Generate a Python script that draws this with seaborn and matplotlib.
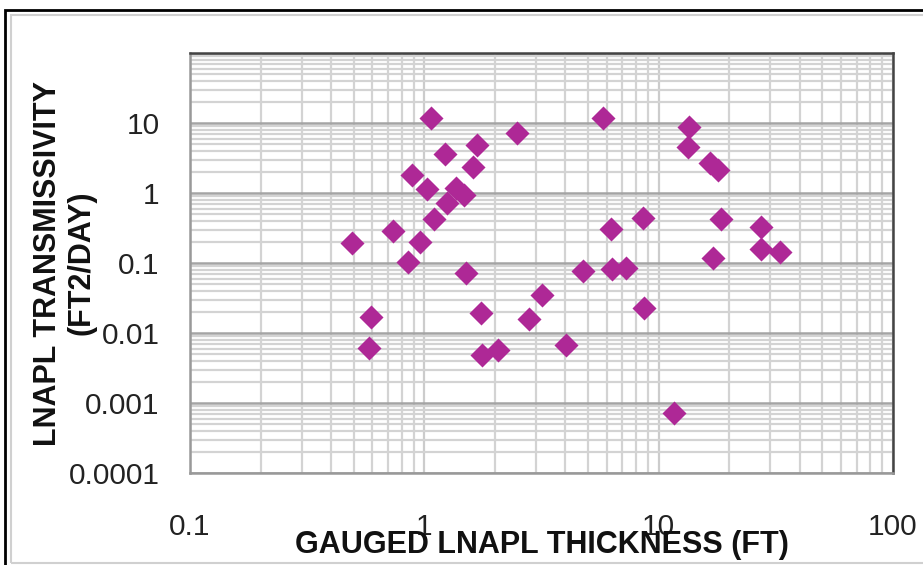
import numpy as np
import pandas as pd
import matplotlib
matplotlib.use("Agg")
import matplotlib.pyplot as plt
import seaborn as sns
from matplotlib.ticker import LogLocator, NullFormatter
from matplotlib.patches import Rectangle

# ---- data ----
thickness = [0.49, 0.594, 0.58, 0.737, 0.855, 0.89, 1.03, 0.96, 1.07, 1.10,
             1.23, 1.68, 1.62, 1.36, 1.47, 1.25, 1.51, 1.75, 1.77, 2.07,
             2.49, 2.81, 3.19, 4.04, 4.77, 5.81, 6.28, 6.34, 7.28, 8.6,
             8.69, 11.6, 13.5, 13.4, 16.6, 18.0, 18.5, 17.1, 27.2, 27.4, 33.1]
transmissivity = [0.19, 0.0168, 0.0061, 0.29, 0.105, 1.8, 1.15, 0.2, 11.8, 0.42,
                  3.6, 4.85, 2.35, 1.18, 0.94, 0.72, 0.072, 0.0193, 0.0048, 0.0057,
                  7.2, 0.0158, 0.035, 0.0067, 0.077, 11.8, 0.306, 0.082, 0.085, 0.44,
                  0.0227, 0.00072, 8.8, 4.5, 2.68, 2.13, 0.42, 0.118, 0.327, 0.158, 0.143]
xtick_vals = [0.1, 1, 10, 100]
xtick_labels = ["0.1", "1", "10", "100"]
ytick_vals = [0.0001, 0.001, 0.01, 0.1, 1, 10]
ytick_labels = ["0.0001", "0.001", "0.01", "0.1", "1", "10"]
x_label = "GAUGED LNAPL THICKNESS (FT)"
y_label = "LNAPL TRANSMISSIVITY\n(FT2/DAY)"

sns.set_style("white")
plt.rcParams["font.family"] = ["Liberation Sans", "DejaVu Sans"]

W, H = 923, 565
fig = plt.figure(figsize=(W / 100, H / 100), dpi=100)
ax = fig.add_axes([190 / W, 92 / H, 703 / W, 420 / H])

df = pd.DataFrame({"thickness": thickness, "transmissivity": transmissivity})
sns.scatterplot(data=df, x="thickness", y="transmissivity", marker="D", s=150,
                color="#AE2896", linewidth=0, ax=ax, zorder=3)

ax.set_xscale("log")
ax.set_yscale("log")
ax.set_xlim(0.1, 100)
ax.set_ylim(1e-4, 1e2)

ax.set_xticks(xtick_vals)
ax.set_xticklabels(xtick_labels)
ax.set_yticks(ytick_vals)
ax.set_yticklabels(ytick_labels)
ax.xaxis.set_minor_locator(LogLocator(base=10, subs=np.arange(2, 10), numticks=20))
ax.yaxis.set_minor_locator(LogLocator(base=10, subs=np.arange(2, 10), numticks=20))
ax.xaxis.set_minor_formatter(NullFormatter())
ax.yaxis.set_minor_formatter(NullFormatter())

ax.set_axisbelow(True)
ax.grid(which="minor", axis="both", color="#d3d3d3", lw=1.6)
ax.grid(which="major", axis="x", color="#cccccc", lw=1.6)
ax.grid(which="major", axis="y", color="#a4a4a4", lw=1.8)
ax.axhline(100, color="#a4a4a4", lw=1.8, zorder=0)

for side in ["top", "right"]:
    ax.spines[side].set_color("#444444")
    ax.spines[side].set_linewidth(1.8)
for side in ["left", "bottom"]:
    ax.spines[side].set_color("#999999")
    ax.spines[side].set_linewidth(1.8)

ax.tick_params(which="major", axis="y", length=7, width=1.5, color="#999999",
               pad=15, labelsize=21.5, labelcolor="#222222")
ax.tick_params(which="major", axis="x", length=9, width=1.5, color="#999999",
               pad=20, labelsize=21.5, labelcolor="#222222")
ax.tick_params(which="minor", length=0)

ax.set_xlabel(x_label, fontsize=22, fontweight="bold", color="#111111")
ax.set_ylabel(y_label, fontsize=22, fontweight="bold", color="#111111",
              linespacing=1.15)
ax.xaxis.set_label_coords(0.5, (473 - 545) / 420)
ax.xaxis.label.set_va("center")
ax.yaxis.set_label_coords((65 - 190) / 703, 0.5)
ax.yaxis.label.set_va("center")

# figure frames
fig.add_artist(Rectangle((5 / W, -0.1), 2, 1 - 10 / H + 0.1, fill=False,
                         ec="black", lw=2, transform=fig.transFigure))
fig.add_artist(Rectangle((11 / W, 2 / H), 2, (563 - 15) / H, fill=False,
                         ec="#d0d0d0", lw=1.5, transform=fig.transFigure))

fig.savefig("out.png", dpi=100)
